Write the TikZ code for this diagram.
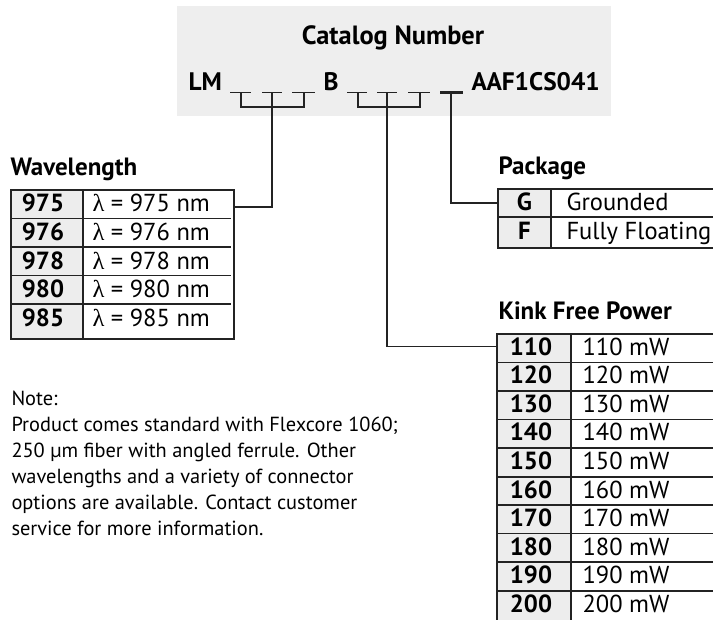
\documentclass[tikz,border=0pt]{standalone}
\usepackage{fontspec}
\setmainfont{PT Sans}
\newfontfamily\greekfont{Liberation Serif}
\definecolor{boxgray}{RGB}{238,238,238}
\definecolor{cellgray}{RGB}{237,237,237}
\definecolor{rulegray}{RGB}{35,35,35}

\tikzset{every picture/.style={line width=0.75pt}}
\tikzset{
  rule/.style={draw=rulegray, line width=1pt},
  heading/.style={anchor=base west, inner sep=0pt, font=\fontsize{18.75}{20}\selectfont\bfseries},
  keytext/.style={anchor=base, inner sep=0pt, font=\fontsize{18.6}{20}\selectfont\bfseries},
  valtext/.style={anchor=base west, inner sep=0pt, font=\fontsize{18.4}{20}\selectfont},
  codetext/.style={anchor=base west, inner sep=0pt, font=\fontsize{19}{20}\selectfont\bfseries},
  blank/.style={draw=rulegray, line width=1pt},
}

\begin{document}
\begin{tikzpicture}[x=0.75pt,y=0.75pt,yscale=-1,xscale=1]
\path [use as bounding box, clip] (0,0) rectangle (713,620);

%Shape: Rectangle [catalog box]
\fill [boxgray] (177,6) rectangle (611,116) ;
\node (title) [anchor=base, inner sep=0pt, font=\fontsize{19.8}{20}\selectfont\bfseries] at (393,45) {Catalog Number};
\node (lm) [codetext] at (188,90.5) {LM};
\node (b) [codetext] at (323,90.5) {B};
\node (sfx) [codetext] at (471,90.5) {AAF1CS041};

%Straight Lines [blanks after LM]
\draw [blank] (230,92.5) -- (251,92.5) ;
\draw [blank] (262,92.5) -- (282,92.5) ;
\draw [blank] (292,92.5) -- (315,92.5) ;
%Straight Lines [blanks after B]
\draw [blank] (347,92.5) -- (367,92.5) ;
\draw [blank] (377,92.5) -- (397,92.5) ;
\draw [blank] (408,92.5) -- (430,92.5) ;
%Straight Lines [package blank]
\draw [blank, line width=2pt] (440,92.5) -- (463,92.5) ;

%Straight Lines [bracket LM]
\draw [rule] (241,93) -- (241,107) -- (304,107) -- (304,93) ;
\draw [rule] (272,93) -- (272,107) ;
\coordinate (wlbar) at (272,107) ;
%Straight Lines [bracket B]
\draw [rule] (358,93) -- (358,107) -- (420,107) -- (420,93) ;
\draw [rule] (387,93) -- (387,107) ;
\coordinate (kfbar) at (387,107) ;
\coordinate (pkbar) at (451,93) ;

%Shape: Table [wavelength]
\node (wlhead) [heading] at (10,176) {Wavelength};
\fill [cellgray] (11,190) rectangle (83,339) ;
\draw [rule] (11,190) rectangle (234,339) ;
\draw [rule] (83,190) -- (83,339) ;
\draw [rule] (11,218.5) -- (231,218.5) ;
\draw [rule] (11,247) -- (231,247) ;
\draw [rule] (11,275.5) -- (231,275.5) ;
\draw [rule] (11,304) -- (231,304) ;
\coordinate (wlport) at (234,207) ;
\node (wk1) [keytext] at (43,212) {975};
\node (wv1) [valtext] at (92,212) {{\greekfont λ} = 975 nm};
\node (wk2) [keytext] at (43,240.5) {976};
\node (wv2) [valtext] at (92,240.5) {{\greekfont λ} = 976 nm};
\node (wk3) [keytext] at (43,269) {978};
\node (wv3) [valtext] at (92,269) {{\greekfont λ} = 978 nm};
\node (wk4) [keytext] at (43,297.5) {980};
\node (wv4) [valtext] at (92,297.5) {{\greekfont λ} = 980 nm};
\node (wk5) [keytext] at (43,326.5) {985};
\node (wv5) [valtext] at (92,326.5) {{\greekfont λ} = 985 nm};

%Shape: Table [package]
\node (pkhead) [heading] at (498,175) {Package};
\fill [cellgray] (498,189) rectangle (551,248) ;
\draw [rule] (720,189) -- (498,189) -- (498,248) -- (720,248) ;
\draw [rule] (551,189) -- (551,248) ;
\draw [rule] (498,217) -- (720,217) ;
\coordinate (pkport) at (498,203) ;
\node (pk1) [keytext] at (524.5,210) {G};
\node (pv1) [valtext] at (566,210) {Grounded};
\node (pk2) [keytext] at (524.5,239.5) {F};
\node (pv2) [valtext] at (566,239.5) {Fully Floating};

%Shape: Table [kink free power]
\node (kfhead) [heading] at (498,319) {Kink Free Power};
\fill [cellgray] (497,334) rectangle (571,625) ;
\draw [rule] (720,334) -- (497,334) -- (497,625) ;
\draw [rule] (571,334) -- (571,625) ;
\draw [rule] (497,362.5) -- (720,362.5) ;
\draw [rule] (497,391) -- (720,391) ;
\draw [rule] (497,419.5) -- (720,419.5) ;
\draw [rule] (497,448) -- (720,448) ;
\draw [rule] (497,477) -- (720,477) ;
\draw [rule] (497,505) -- (720,505) ;
\draw [rule] (497,533.5) -- (720,533.5) ;
\draw [rule] (497,562) -- (720,562) ;
\draw [rule] (497,591) -- (720,591) ;
\coordinate (kfport) at (497,346.5) ;
\node (kk1) [keytext] at (531,355) {110};
\node (kv1) [valtext] at (582,355) {110 mW};
\node (kk2) [keytext] at (531,383.6) {120};
\node (kv2) [valtext] at (582,383.6) {120 mW};
\node (kk3) [keytext] at (531,412.2) {130};
\node (kv3) [valtext] at (582,412.2) {130 mW};
\node (kk4) [keytext] at (531,440.8) {140};
\node (kv4) [valtext] at (582,440.8) {140 mW};
\node (kk5) [keytext] at (531,469.4) {150};
\node (kv5) [valtext] at (582,469.4) {150 mW};
\node (kk6) [keytext] at (531,498) {160};
\node (kv6) [valtext] at (582,498) {160 mW};
\node (kk7) [keytext] at (531,526.6) {170};
\node (kv7) [valtext] at (582,526.6) {170 mW};
\node (kk8) [keytext] at (531,555.2) {180};
\node (kv8) [valtext] at (582,555.2) {180 mW};
\node (kk9) [keytext] at (531,583.8) {190};
\node (kv9) [valtext] at (582,583.8) {190 mW};
\node (kk10) [keytext] at (531,612.4) {200};
\node (kv10) [valtext] at (582,612.4) {200 mW};

%Connectors
\draw [rule] (wlbar) |- (wlport) ;
\draw [rule] (kfbar) |- (kfport) ;
\draw [rule] (pkbar) |- (pkport) ;

%Text [note], anchored at the baseline of its last line
\node (note) [anchor=base west, inner sep=0pt, align=left, font=\fontsize{15.3}{19.5}\selectfont] at (11,535) {Note:\\Product comes standard with Flexcore 1060;\\250 µm fiber with angled ferrule. Other\\wavelengths and a variety of connector\\options are available. Contact customer\\service for more information.};

\end{tikzpicture}
\end{document}
